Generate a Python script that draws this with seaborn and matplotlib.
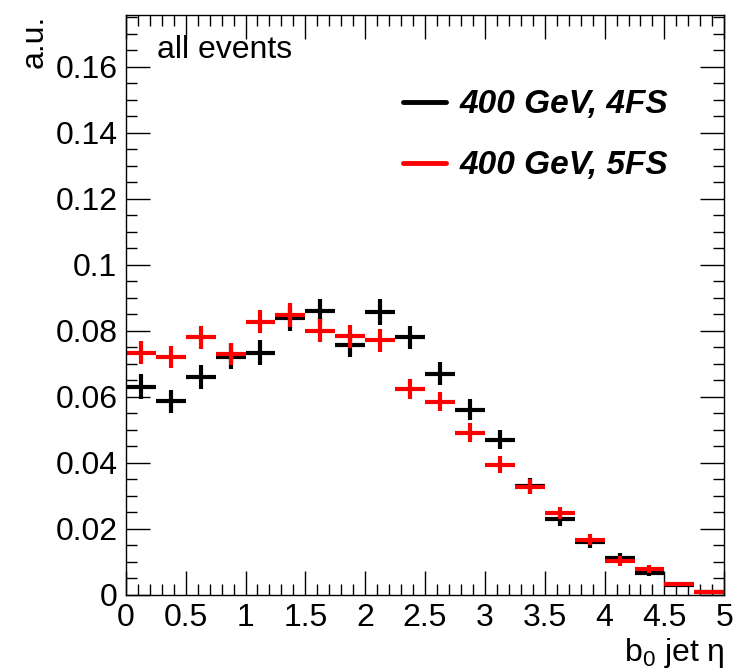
import numpy as np
import pandas as pd
import matplotlib
matplotlib.use("Agg")
import matplotlib.pyplot as plt
import seaborn as sns
from matplotlib.ticker import MultipleLocator
from matplotlib.lines import Line2D

# b0 jet eta, 20 bins from 0 to 5
bin_edges = np.linspace(0, 5, 21)
bin_centers = 0.5 * (bin_edges[:-1] + bin_edges[1:])
bin_halfwidth = 0.125

vals_4fs = [0.0631, 0.0586, 0.0660, 0.0722, 0.0734, 0.0838, 0.0859, 0.0758, 0.0857, 0.0780,
            0.0670, 0.0561, 0.0470, 0.0331, 0.0230, 0.0159, 0.0113, 0.0068, 0.0030, 0.0008]
errs_4fs = [0.0037, 0.0036, 0.0037, 0.0037, 0.0037, 0.0038, 0.0038, 0.0036, 0.0038, 0.0036,
            0.0035, 0.0031, 0.0029, 0.0024, 0.0020, 0.0016, 0.0013, 0.0010, 0.0006, 0.0003]
vals_5fs = [0.0734, 0.0720, 0.0781, 0.0730, 0.0828, 0.0848, 0.0800, 0.0783, 0.0771, 0.0624,
            0.0585, 0.0492, 0.0394, 0.0328, 0.0248, 0.0167, 0.0103, 0.0080, 0.0032, 0.0010]
errs_5fs = [0.0034, 0.0034, 0.0035, 0.0034, 0.0036, 0.0036, 0.0035, 0.0035, 0.0035, 0.0030,
            0.0029, 0.0028, 0.0026, 0.0023, 0.0019, 0.0017, 0.0014, 0.0012, 0.0006, 0.0004]

labels = ["400 GeV, 4FS", "400 GeV, 5FS"]
colors = ["black", "red"]

df = pd.DataFrame({
    "eta": np.concatenate([bin_centers, bin_centers]),
    "val": vals_4fs + vals_5fs,
    "err": errs_4fs + errs_5fs,
    "sample": [labels[0]] * 20 + [labels[1]] * 20,
})

sns.set_theme(style="ticks")
plt.rcParams["font.family"] = ["Liberation Sans", "DejaVu Sans"]
plt.rcParams["mathtext.fontset"] = "custom"
plt.rcParams["mathtext.rm"] = "Liberation Sans"
plt.rcParams["mathtext.it"] = "Liberation Sans:italic"
for key in ["text.color", "axes.labelcolor", "xtick.color", "ytick.color", "axes.edgecolor"]:
    plt.rcParams[key] = "black"

fig = plt.figure(figsize=(7.49, 6.71), dpi=100)
ax = fig.add_axes([0.168, 0.1133, 0.799, 0.8647])

for lab, col in zip(labels, colors):
    sub = df[df["sample"] == lab]
    ax.errorbar(sub["eta"], sub["val"], yerr=sub["err"], xerr=bin_halfwidth,
                fmt="none", ecolor=col, elinewidth=3.0, capsize=0)

ax.set_xlim(0, 5)
ax.set_ylim(0, 0.1757)
ax.xaxis.set_minor_locator(MultipleLocator(0.1))
ax.yaxis.set_minor_locator(MultipleLocator(0.005))
ax.set_xticks(np.arange(0, 5.01, 0.5))
ax.set_xticklabels(["0", "0.5", "1", "1.5", "2", "2.5", "3", "3.5", "4", "4.5", "5"])
ax.set_yticks(np.arange(0, 0.161, 0.02))
ax.set_yticklabels(["0", "0.02", "0.04", "0.06", "0.08", "0.1", "0.12", "0.14", "0.16"])

ax.tick_params(which="both", direction="in", top=True, right=True, labelsize=23,
               width=1.0, color="black", labelcolor="black")
ax.tick_params(which="major", length=17, pad=6)
ax.tick_params(which="minor", length=8)
for s in ax.spines.values():
    s.set_linewidth(1.0)
    s.set_color("black")

ax.set_ylabel("a.u.", fontsize=23, loc="top", labelpad=4)
ax.set_xlabel(r"b$_0$ jet η", fontsize=23, loc="right", labelpad=2)

ax.text(0.052, 0.94, "all events", transform=ax.transAxes, fontsize=23,
        ha="left", va="center")

handles = [Line2D([0], [0], color=c, lw=3.5) for c in colors]
ax.legend(handles, labels, loc="upper left", bbox_to_anchor=(0.435, 0.9),
          frameon=False, prop={"size": 24, "weight": "bold", "style": "italic"},
          handlelength=1.3, handletextpad=0.4, labelspacing=0.9, borderpad=0)

fig.savefig("out.png", dpi=100)
